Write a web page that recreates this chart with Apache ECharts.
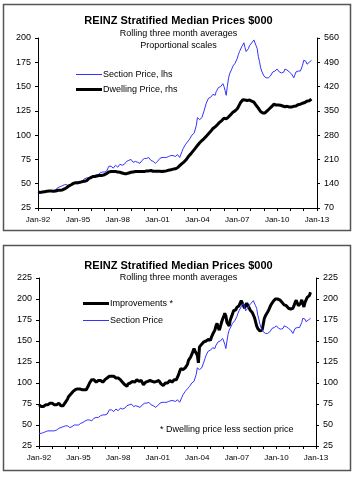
<!DOCTYPE html>
<html>
<head>
<meta charset="utf-8">
<script src="https://cdn.jsdelivr.net/npm/echarts@6/dist/echarts.min.js"></script>
<style>html,body{margin:0;padding:0;background:#fff;}#c{width:357px;height:480px;}</style>
</head>
<body>
<div id="c"></div>
<script>
// ---- DATA ----
const tickLabels = ['Jan-92','Jan-95','Jan-98','Jan-01','Jan-04','Jan-07','Jan-10','Jan-13'];
const monthNames = ['Jan','Feb','Mar','Apr','May','Jun','Jul','Aug','Sep','Oct','Nov','Dec'];
const startYear = 1992, endYear = 2013;

// Section price ($000), monthly from Jan-92 (lhs)
const sectionPrice = [
 40,41,40,42,41,43,42,42,43,42,43,44,
 43,44,43,45,44,45,46,45,47,46,48,47,
 49,48,49,48,47,49,48,49,50,49,50,51,
 50,51,52,51,53,54,55,54,56,55,56,57,
 55,56,58,57,59,60,59,60,61,60,62,61,
 62,61,63,65,68,67,68,67,66,68,69,68,
 67,69,70,68,69,71,70,72,73,72,74,73,
 75,73,72,71,73,72,72,73,71,72,74,75,
 76,77,76,75,77,76,74,74,73,72,71,72,
 73,74,76,75,77,76,77,78,77,79,78,77,
 79,80,79,80,78,79,80,78,77,79,83,86,
 88,90,92,93,94,96,98,100,101,102,104,110,
 118,120,116,117,118,117,125,129,133,135,138,137,
 139,140,142,143,141,145,147,149,147,150,152,153,
 150,146,141,150,158,163,165,168,171,170,174,176,
 179,183,186,188,191,193,195,190,186,184,189,192,
 194,195,197,198,196,192,189,181,176,170,166,164,
 161,160,159,158,159,160,161,162,165,167,166,167,
 168,166,165,167,164,163,165,168,169,167,166,165,
 164,163,161,159,162,165,167,166,165,166,168,172,
 177,179,176,173,172,175,176,177
];

// Dwelling price ($000), monthly from Jan-92 (rhs, top chart)
const dwellingPrice = [
 116,116,115,116,116,117,117,117,118,118,119,119,
 119,119,118,119,119,120,121,121,121,122,122,123,
 125,127,129,132,134,136,137,139,141,142,143,144,
 143,144,144,145,146,146,147,147,149,152,155,157,
 158,159,161,160,161,162,163,164,164,163,164,165,
 166,167,169,171,174,175,175,174,175,175,175,174,
 174,174,173,172,171,170,169,169,169,170,171,172,
 173,174,174,174,175,175,175,175,175,175,175,175,
 175,176,177,177,177,178,178,177,176,176,176,176,
 176,176,176,175,175,175,176,177,177,178,179,179,
 180,181,182,183,183,184,186,189,192,195,198,200,
 203,207,210,214,219,222,226,230,234,238,242,246,
 250,255,258,261,264,267,270,274,277,280,284,288,
 291,295,299,302,304,306,310,314,317,319,322,326,
 329,330,327,327,332,335,339,343,346,349,350,352,
 356,362,368,374,379,382,382,381,380,380,381,381,
 380,378,377,375,371,366,362,358,353,348,345,344,
 343,344,347,350,353,356,358,362,366,369,368,367,
 369,367,368,366,365,364,363,362,362,363,361,361,
 360,361,362,363,365,364,366,368,367,369,370,372,
 375,374,376,378,380,379,382,384
];

// Improvements = dwelling less section ($000), monthly from Jan-92 (bottom chart)
const improvements = [
 74,73,72,73,72,73,74,73,74,75,76,75,
 76,75,74,73,74,75,76,75,73,74,73,75,
 77,79,81,84,86,87,88,90,91,92,93,93,
 92,93,92,92,93,92,93,92,94,97,100,101,
 104,103,104,102,101,102,103,104,103,102,101,103,
 104,105,106,107,108,109,108,107,108,107,106,105,
 106,105,104,103,101,99,98,97,96,99,98,100,
 101,102,103,101,102,104,103,102,104,103,101,98,
 99,101,103,102,100,103,104,102,100,101,103,102,
 104,103,101,99,98,97,99,100,101,100,102,103,
 102,101,103,104,102,104,106,110,114,117,118,116,
 117,118,119,122,127,129,131,134,136,141,138,140,
 133,124,143,145,146,147,149,148,150,151,152,150,
 151,155,158,160,163,168,171,166,163,167,172,176,
 179,183,180,172,170,168,175,177,182,186,184,187,
 190,189,192,195,198,196,192,189,192,195,194,190,
 187,185,184,183,178,173,168,165,163,162,161,163,
 170,177,180,182,184.5,187,190,193,195,197,198.5,200,
 199,200,201,199,198,196,194,193,192.5,192,190,189,
 189,188,190,189,192,196,198.5,195,192,190.5,195,199,
 201,190.5,196,199,202,200,204,208
];

// ---- BUILD ----
const months = [];
for (let y = startYear; y <= endYear; y++) {
  for (let m = 0; m < 12; m++) {
    months.push(monthNames[m] + '-' + String(y).slice(2));
    if (y === endYear) break;
  }
}

const FONT = '"Liberation Sans", Arial, sans-serif';
const BLUE = '#3333ff';
const AX = '#000';
const ICON_THIN = 'path://M0,0M0,6M0,2.5H26V3.5H0Z';
const ICON_THICK = 'path://M0,0M0,6M0,1.5H26V4.5H0Z';

function xAxis(gi) {
  return {
    type: 'category', gridIndex: gi, data: months, boundaryGap: false,
    axisLine: {lineStyle: {color: AX, width: 1}},
    axisTick: {interval: 11, length: 3, lineStyle: {color: AX}},
    axisLabel: {interval: 35, color: '#000', fontSize: 8, fontFamily: FONT, margin: 8,
      formatter: v => tickLabels.indexOf(v) >= 0 ? v : ''},
    splitLine: {show: false}
  };
}
function yAxis(gi, pos, min, max, iv) {
  return {
    type: 'value', gridIndex: gi, position: pos, min: min, max: max, interval: iv,
    axisLine: {show: true, lineStyle: {color: AX, width: 1}},
    axisTick: {show: true, length: 3, lineStyle: {color: AX}},
    axisLabel: {color: '#000', fontSize: 9, fontFamily: FONT, margin: 7},
    splitLine: {show: false}
  };
}

const chart = echarts.init(document.getElementById('c'), null, {renderer: 'canvas'});
chart.setOption({
  animation: false,
  backgroundColor: '#fff',
  textStyle: {fontFamily: FONT},
  title: [
    {text: 'REINZ Stratified Median Prices $000', left: 'center', top: 10,
     textStyle: {fontSize: 11, fontWeight: 'bold', color: '#000', fontFamily: FONT}},
    {text: 'Rolling three month averages', left: 'center', top: 24,
     textStyle: {fontSize: 9, fontWeight: 'normal', color: '#000', fontFamily: FONT}},
    {text: 'Proportional scales', left: 'center', top: 36,
     textStyle: {fontSize: 9, fontWeight: 'normal', color: '#000', fontFamily: FONT}},
    {text: 'REINZ Stratified Median Prices $000', left: 'center', top: 255,
     textStyle: {fontSize: 11, fontWeight: 'bold', color: '#000', fontFamily: FONT}},
    {text: 'Rolling three month averages', left: 'center', top: 268,
     textStyle: {fontSize: 9, fontWeight: 'normal', color: '#000', fontFamily: FONT}}
  ],
  legend: [
    {data: [{name: 'Section Price, lhs', icon: ICON_THIN}, {name: 'Dwelling Price, rhs', icon: ICON_THICK}],
     orient: 'vertical', left: 71, top: 65,
     itemWidth: 26, itemHeight: 6, itemGap: 6,
     textStyle: {fontSize: 9, color: '#000', fontFamily: FONT, padding: [0,0,0,-4]}},
    {data: [{name: 'Improvements *', icon: ICON_THICK}, {name: 'Section Price', icon: ICON_THIN}],
     orient: 'vertical', left: 78, top: 294,
     itemWidth: 26, itemHeight: 6, itemGap: 8,
     textStyle: {fontSize: 9, color: '#000', fontFamily: FONT, padding: [0,0,0,-4]}}
  ],
  grid: [
    {left: 38, top: 38, width: 279, height: 170},
    {left: 39, top: 278, width: 277, height: 168}
  ],
  xAxis: [xAxis(0), xAxis(1)],
  yAxis: [
    yAxis(0, 'left', 25, 200, 25),
    yAxis(0, 'right', 70, 560, 70),
    yAxis(1, 'left', 25, 225, 25),
    yAxis(1, 'right', 25, 225, 25)
  ],
  series: [
    {name: 'Section Price, lhs', type: 'line', xAxisIndex: 0, yAxisIndex: 0, data: sectionPrice,
     showSymbol: false, symbol: 'none', lineStyle: {color: BLUE, width: 1}, itemStyle: {color: BLUE}},
    {name: 'Dwelling Price, rhs', type: 'line', xAxisIndex: 0, yAxisIndex: 1, data: dwellingPrice,
     showSymbol: false, symbol: 'none', lineStyle: {color: '#000', width: 3}, itemStyle: {color: '#000'}},
    {name: 'Improvements *', type: 'line', xAxisIndex: 1, yAxisIndex: 2, data: improvements,
     showSymbol: false, symbol: 'none', lineStyle: {color: '#000', width: 3}, itemStyle: {color: '#000'}},
    {name: 'Section Price', type: 'line', xAxisIndex: 1, yAxisIndex: 2, data: sectionPrice,
     showSymbol: false, symbol: 'none', lineStyle: {color: BLUE, width: 1}, itemStyle: {color: BLUE}}
  ],
  graphic: [
    {type: 'rect', shape: {x: 3.5, y: 4.5, width: 347, height: 226}, style: {fill: 'none', stroke: '#555', lineWidth: 1.5}},
    {type: 'rect', shape: {x: 3.5, y: 245.5, width: 347, height: 225}, style: {fill: 'none', stroke: '#555', lineWidth: 1.5}},
    {type: 'text', left: 160, top: 425, style: {text: '* Dwelling price less section price', fontSize: 9, fill: '#000', font: '9px ' + FONT}}
  ]
});
</script>
</body>
</html>
